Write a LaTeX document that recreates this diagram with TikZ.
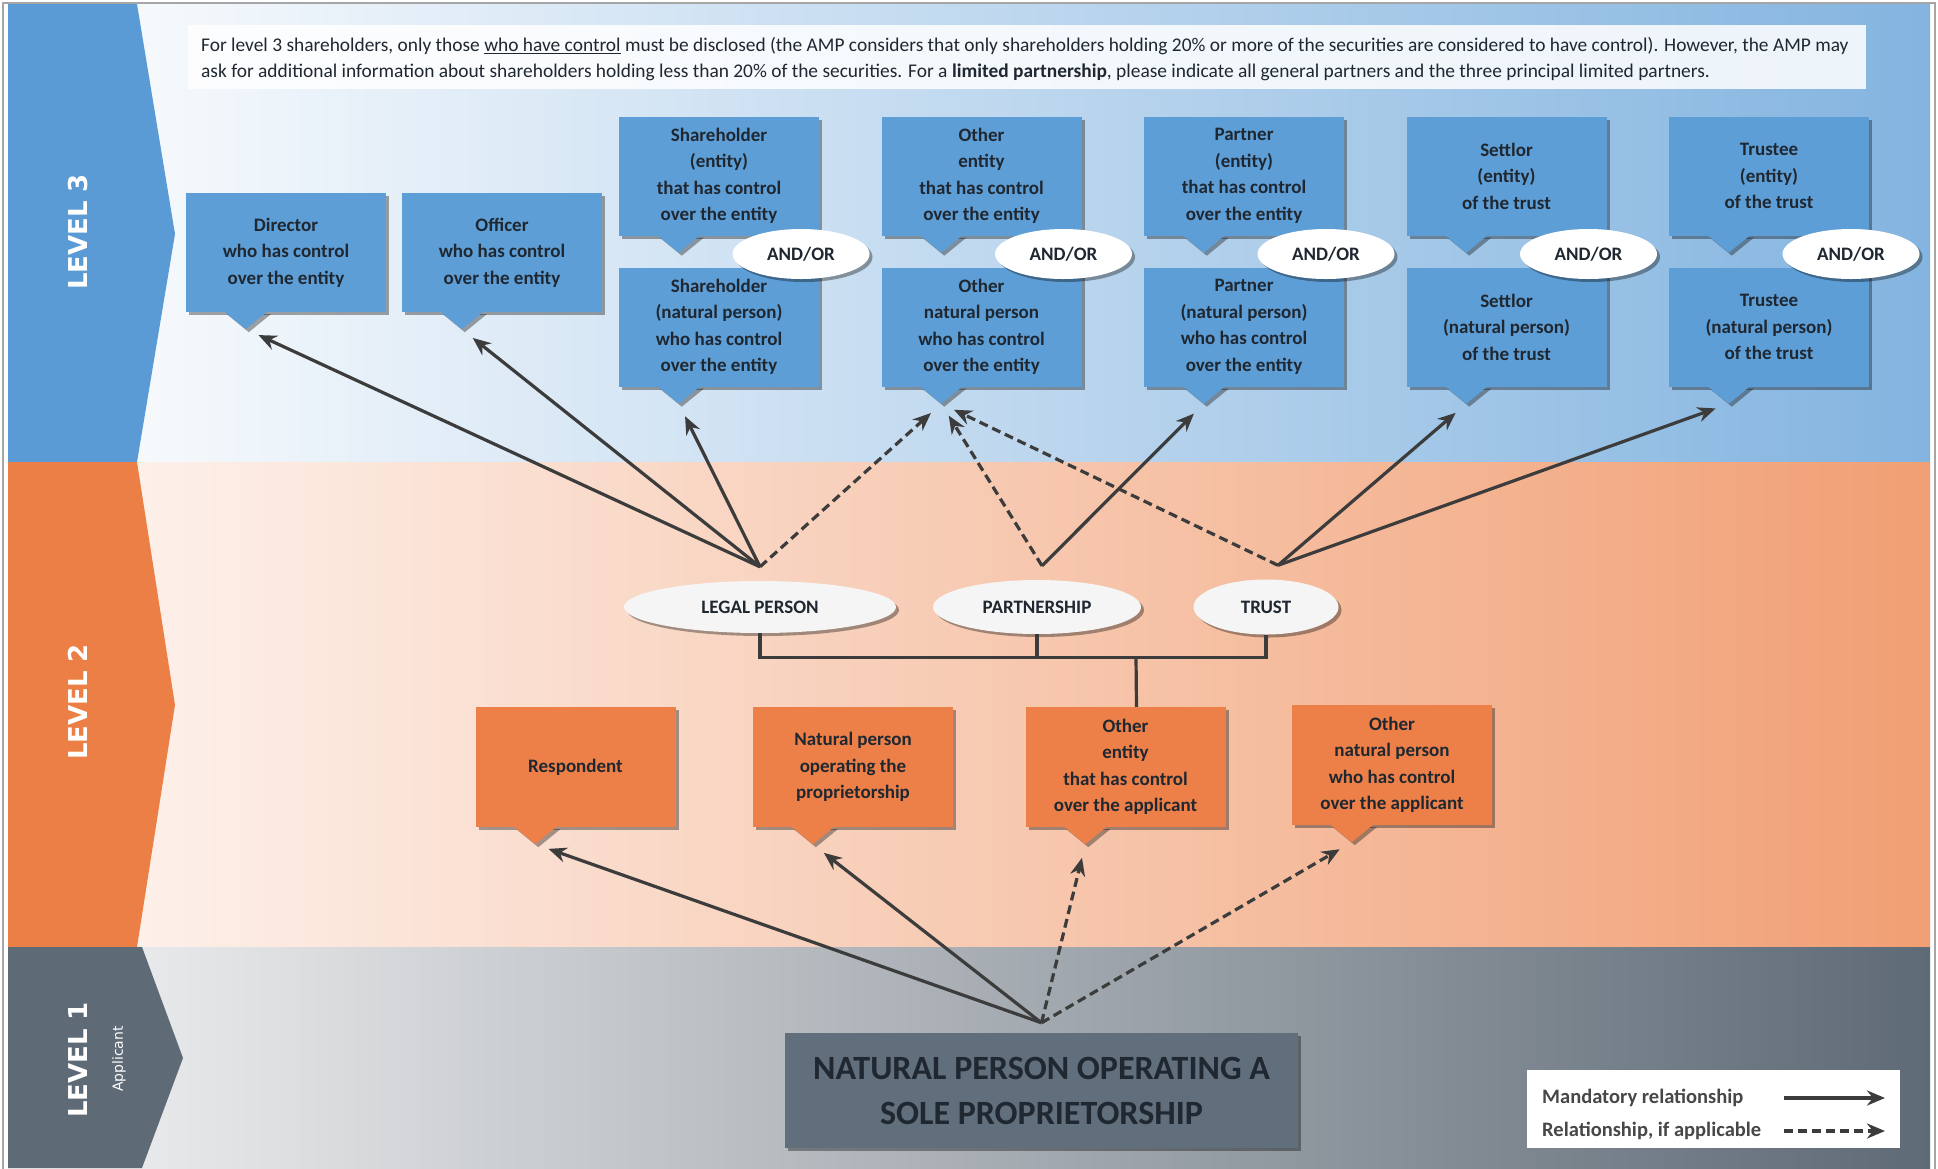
\documentclass[tikz,border=0pt]{standalone}
\usepackage{fontspec}
\setmainfont{Carlito}
\newfontfamily\levelfont{DejaVu Sans}
\usetikzlibrary{arrows.meta,shadows,shapes.geometric}
\definecolor{boxblue}{HTML}{5E9ED6}
\definecolor{taborange}{HTML}{EC7F45}
\definecolor{boxorange}{HTML}{ED8048}
\definecolor{tabblue}{HTML}{5A9BD5}
\definecolor{tabgray}{HTML}{5E6A76}
\definecolor{appgray}{HTML}{616E7B}
\definecolor{inkgray}{HTML}{3C3C3C}
\definecolor{textdark}{HTML}{1F2731}
\definecolor{keytext}{HTML}{474747}
\newcommand\cellfont{\fontsize{19}{26.5}\selectfont\bfseries}
\newcommand\calltail[2][boxblue]{%
	\fill[#1,softshadow] ([xshift=38pt,yshift=1pt]#2.south west) -- ([xshift=60pt,yshift=-17pt]#2.south west) -- ([xshift=82pt,yshift=1pt]#2.south west) -- cycle;
	\coordinate (#2-t) at ([xshift=60pt,yshift=-17pt]#2.south west);}
\begin{document}
\begin{tikzpicture}[x=1pt,y=-1pt,
	softshadow/.style={drop shadow={shadow xshift=3pt,shadow yshift=-3pt,opacity=.35,fill=black}},
	bluebox/.style={fill=boxblue,minimum width=200pt,minimum height=119pt,inner sep=0pt,align=center,font=\cellfont,text=textdark,softshadow},
	orangebox/.style={bluebox,fill=boxorange,minimum height=120pt},
	andor/.style={ellipse,fill=white,minimum width=137pt,minimum height=50pt,inner sep=0pt,font=\cellfont,text=textdark,softshadow},
	kind/.style={ellipse,fill=black!4,inner sep=0pt,font=\cellfont,text=textdark,softshadow},
	must/.style={draw=inkgray,line width=3.2pt,-{Stealth[length=18pt,width=15pt]},shorten >=14pt},
	maybe/.style={must,dash pattern=on 9pt off 5pt},
	link/.style={draw=inkgray,line width=3.2pt},
	keyline/.style={anchor=west,inner sep=0pt,text=keytext,font=\fontsize{20.5}{22}\selectfont\bfseries},
	level/.style={rotate=90,text=white,font=\levelfont\bfseries\fontsize{26}{30}\selectfont}]
	\useasboundingbox (0,0) rectangle (1938,1168);
	\fill[white] (0,0) rectangle (1938,1168);
	\shade[left color=black!5!white!95!blue!3,right color=tabblue!75] (8,4) rectangle (1930,462);
	\shade[left color=taborange!7,right color=taborange!75] (8,462) rectangle (1930,947);
	\shade[left color=black!5,right color=tabgray] (8,947) rectangle (1930,1168);
	\draw[black!35,line width=1.5pt] (3,3) rectangle (1935,1170);
	\fill[tabblue] (8,4) -- (137,4) -- (175,234) -- (137,462) -- (8,462) -- cycle;
	\fill[taborange] (8,462) -- (137,462) -- (175,705) -- (137,947) -- (8,947) -- cycle;
	\fill[tabgray] (8,947) -- (142,947) -- (183,1058) -- (142,1168) -- (8,1168) -- cycle;
	\node[level] (l3) at (78,232) {LEVEL 3};
	\node[level] (l2) at (78,702) {LEVEL 2};
	\node[level] (l1) at (78,1060) {LEVEL 1};
	\node[rotate=90,text=white,font=\levelfont\fontsize{14}{16}\selectfont] (l1a) at (119,1059) {Applicant};

	\node[fill=white,fill opacity=.85,minimum width=1678pt,minimum height=64pt] (note) at (1027,57) {};
	\node[anchor=west,align=left,inner sep=0pt,text=textdark,font=\fontsize{19.4}{26}\selectfont] (notetext) at (201,59) {For level 3 shareholders, only those \underline{who have control} must be disclosed (the AMP considers that only shareholders holding 20\% or more of the securities are considered to have control). However, the AMP may\\ask for additional information about shareholders holding less than 20\% of the securities. For a \textbf{limited partnership}, please indicate all general partners and the three principal limited partners.};

	\node[bluebox] (dir) at (286,252.5) {Director\\who has control\\over the entity};
	\calltail{dir}
	\node[bluebox] (off) at (502,252.5) {Officer\\who has control\\over the entity};
	\calltail{off}
	\foreach \n/\a/\b [count=\i from 0] in {
		sh/{Shareholder\\(entity)\\that has control\\over the entity}/{Shareholder\\(natural person)\\who has control\\over the entity},
		oe/{Other\\entity\\that has control\\over the entity}/{Other\\natural person\\who has control\\over the entity},
		pe/{Partner\\(entity)\\that has control\\over the entity}/{Partner\\(natural person)\\who has control\\over the entity},
		se/{Settlor\\(entity)\\of the trust}/{Settlor\\(natural person)\\of the trust},
		tu/{Trustee\\(entity)\\of the trust}/{Trustee\\(natural person)\\of the trust}} {
		\node[bluebox] (\n1) at (719+262.5*\i,176) {\a};
		\calltail{\n1}
		\node[bluebox] (\n2) at (719+262.5*\i,327) {\b};
		\calltail{\n2}
		\node[andor] (\n-or) at (801+262.5*\i,254) {AND/OR};
	}

	\node[kind,minimum width=272pt,minimum height=52pt] (lp) at (760,607) {LEGAL PERSON};
	\node[kind,minimum width=208pt,minimum height=54pt] (pa) at (1037,607) {PARTNERSHIP};
	\node[kind,minimum width=145pt,minimum height=55pt] (tr) at (1266,607) {TRUST};
	\coordinate (lp-h) at ([yshift=14pt]lp.north);
	\coordinate (pa-h) at ([xshift=5pt,yshift=14pt]pa.north);
	\coordinate (tr-h) at ([xshift=12pt,yshift=14pt]tr.north);
	\coordinate (br) at ([yshift=-23pt]pa.south);

	\node[orangebox] (res) at (575.5,767) {Respondent};
	\calltail[boxorange]{res}
	\node[orangebox] (nat) at (853,767) {Natural person\\operating the\\proprietorship};
	\calltail[boxorange]{nat}
	\node[orangebox] (oen) at (1125.5,767) {Other\\entity\\that has control\\over the applicant};
	\calltail[boxorange]{oen}
	\node[orangebox] (onp) at (1392,765) {Other\\natural person\\who has control\\over the applicant};
	\calltail[boxorange]{onp}

	\draw[link] (lp.south) |- (br) -- (pa.south);
	\draw[link] (pa.south) -- (br) -| (tr.south);
	\draw[link] (br -| 1136,0) -- ([xshift=11pt]oen.north);

	\node[fill=appgray,minimum width=513pt,minimum height=115pt,align=center,text=textdark,font=\fontsize{34}{45}\selectfont\bfseries,softshadow] (app) at (1041.5,1090.5) {NATURAL PERSON OPERATING A\\SOLE PROPRIETORSHIP};
	\coordinate (app-h) at ([yshift=10pt]app.north);

	\draw[must] (lp-h) -- (dir-t);
	\draw[must] (lp-h) -- (off-t);
	\draw[must] (lp-h) -- (sh2-t);
	\draw[maybe] (lp-h) -- (oe2-t);
	\draw[maybe] (pa-h) -- (oe2-t);
	\draw[must] (pa-h) -- (pe2-t);
	\draw[maybe] (tr-h) -- (oe2-t);
	\draw[must] (tr-h) -- (se2-t);
	\draw[must] (tr-h) -- (tu2-t);

	\draw[must] (app-h) -- (res-t);
	\draw[must] (app-h) -- (nat-t);
	\draw[maybe] (app-h) -- (oen-t);
	\draw[maybe] (app-h) -- (onp-t);

	\node[fill=white,minimum width=373pt,minimum height=78pt] (key) at (1713.5,1109) {};
	\node[keyline] (k1) at (1542,1098) {Mandatory relationship};
	\node[keyline] (k2) at (1542,1131) {Relationship, if applicable};
	\coordinate (k1a) at (1784,1098); \coordinate (k1b) at (1885,1098);
	\coordinate (k2a) at (1784,1131); \coordinate (k2b) at (1885,1131);
	\draw[must,shorten >=0pt] (k1a) -- (k1b);
	\draw[maybe,shorten >=0pt] (k2a) -- (k2b);
\end{tikzpicture}
\end{document}
